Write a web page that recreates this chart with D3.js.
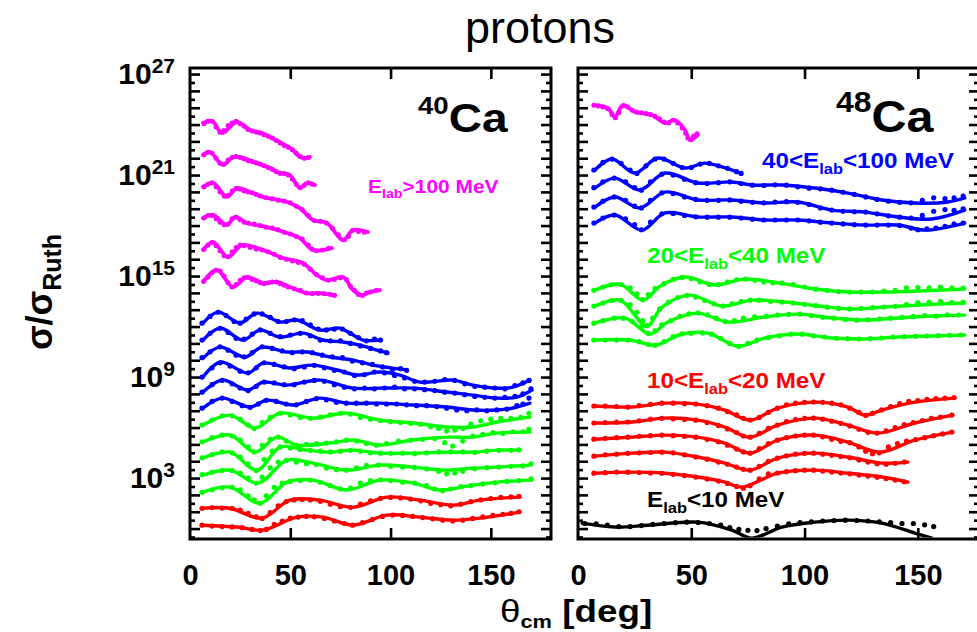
<!DOCTYPE html>
<html>
<head>
<meta charset="utf-8">
<script src="https://cdn.jsdelivr.net/npm/d3@7"></script>
<style>
  body { margin: 0; background: #fff; }
  svg { display: block; }
</style>
</head>
<body>
<svg id="chart" width="977" height="632"></svg>
<script>
// Elastic proton scattering, sigma/sigma_Ruth versus theta_cm.
// Every point is [theta_cm in degrees, log10(sigma/sigma_Ruth)] with the display offset of each curve already applied.

// ---------- 40Ca : E_lab > 100 MeV ----------
const ca40FitAbove100 = [
  [[6.5,24.09],[11,24.21],[16,23.5],[23.4,24.15],[29.9,23.68],[35.9,23.5],[40.9,23.2],[47.4,22.78],[51.3,22.49],[54.8,22.07],[57.8,22.01],[59.8,22.07]],
  [[6.5,22.19],[10,22.37],[16.5,21.6],[21.4,22.07],[24.9,22.07],[33.4,21.71],[39.9,21.42],[44.9,21.12],[49.8,21.0],[54.8,20.23],[58.3,20.53],[62.3,20.41]],
  [[6.5,20.29],[11.5,20.53],[18.4,19.7],[23.4,20.23],[29.9,19.99],[36.4,19.7],[48.4,19.4],[54.8,19.04],[61.3,18.33],[68.3,18.15],[76.3,17.14],[81.3,17.73],[88.7,17.61]],
  [[6.5,18.45],[11.5,18.63],[18.4,18.03],[22.4,18.51],[28.4,18.15],[38.4,17.91],[48.4,17.56],[54.8,17.26],[61.3,16.55],[70.8,16.66]],
  [[6.5,16.55],[11.5,17.02],[18.9,16.13],[25.9,16.84],[36.4,16.55],[46.4,16.07],[56.3,15.77],[63.3,15.06],[68.3,14.76],[76.3,14.94],[81.3,14.17],[85.7,13.87],[89.7,14.05],[94.7,14.17]],
  [[6.5,14.65],[13.5,15.36],[21.4,14.35],[28.4,14.94],[36.4,14.59],[43.4,14.65],[49.8,14.35],[58.3,13.99],[64.8,13.99],[72.3,13.87]]
];
const ca40DataAbove100 = [
  [[7,24.05],[9,24.2],[11,24.2],[13,23.85],[15,23.55],[17,23.65],[19,23.95],[21,24.1],[23,24.2],[25,24.05],[27,23.9],[29,23.7],[31,23.62],[33,23.55],[35,23.5],[37,23.4],[39,23.3],[41,23.2],[43,23.05],[45,22.9],[47,22.75],[49,22.65],[51,22.5],[53,22.3],[55,22.1],[57,22.0],[59,22.05]],
  [[7,22.2],[9,22.35],[11,22.3],[13,22.0],[15,21.7],[17,21.65],[19,21.9],[21,22.05],[23,22.1],[25,22.05],[27,21.95],[29,21.85],[31,21.8],[33,21.72],[35,21.65],[37,21.55],[39,21.45],[41,21.35],[43,21.2],[45,21.1],[47,21.1],[49,21.0],[51,20.75],[53,20.45],[55,20.25],[57,20.4],[59,20.55],[61,20.45]],
  [[7,20.3],[9,20.45],[11,20.55],[13,20.3],[15,20.0],[17,19.75],[19,19.8],[21,20.05],[23,20.2],[25,20.15],[27,20.05],[29,20.0],[31,19.95],[33,19.85],[35,19.75],[38,19.65],[41,19.6],[44,19.5],[47,19.45],[50,19.35],[53,19.15],[56,18.95],[59,18.6],[62,18.3],[65,18.25],[68,18.15],[71,17.85],[74,17.45],[77,17.15],[79,17.35],[81,17.7],[84,17.65],[87,17.6]],
  [[7,18.45],[9,18.6],[11,18.6],[13,18.4],[15,18.2],[17,18.05],[19,18.1],[21,18.4],[23,18.5],[25,18.35],[27,18.2],[29,18.15],[32,18.1],[35,18.0],[38,17.9],[41,17.85],[44,17.75],[47,17.6],[50,17.5],[53,17.35],[56,17.2],[59,16.85],[61,16.6],[63,16.5],[66,16.55],[69,16.65]],
  [[7,16.6],[9,16.85],[11,17.0],[13,16.8],[15,16.5],[17,16.2],[19,16.15],[21,16.45],[23,16.7],[25,16.85],[27,16.8],[30,16.7],[33,16.6],[36,16.55],[39,16.45],[42,16.3],[45,16.1],[48,16.0],[51,15.9],[54,15.8],[57,15.7],[60,15.4],[63,15.1],[66,14.9],[69,14.75],[72,14.8],[75,14.9],[78,14.8],[80,14.4],[82,14.15],[84,13.9],[86,13.85],[88,14.0],[90,14.05],[93,14.15]],
  [[7,14.7],[9,14.95],[11,15.2],[13,15.35],[15,15.3],[17,15.0],[19,14.6],[21,14.35],[23,14.5],[25,14.75],[27,14.9],[29,14.92],[31,14.8],[33,14.7],[35,14.6],[37,14.55],[39,14.6],[41,14.65],[43,14.65],[45,14.55],[47,14.45],[49,14.35],[52,14.25],[55,14.15],[58,14.0],[61,13.95],[64,13.97],[67,13.95],[70,13.9],[72,13.85]]
];

// ---------- 40Ca : 40 < E_lab < 100 MeV ----------
const ca40Fit40to100 = [
  [[6.5,12.21],[14,12.86],[24.9,12.21],[33.4,12.8],[44.9,12.27],[53.3,12.39],[64.8,11.79],[74.8,11.91],[79.8,11.61],[86.2,11.2],[94.7,11.2]],
  [[6.5,11.2],[15,11.91],[26.4,11.2],[34.9,11.79],[44.9,11.38],[56.3,11.61],[66.3,11.2],[76.3,11.08],[84.7,10.9],[93.2,10.6],[98.7,10.43]],
  [[6.5,10.13],[15,10.78],[27.4,10.19],[35.9,10.78],[48.4,10.49],[58.3,10.49],[69.8,10.19],[81.3,10.01],[91.2,9.71],[101.2,9.53],[108.2,9.42]],
  [[6.5,9.0],[15,9.89],[28.9,9.24],[36.4,9.83],[49.8,9.54],[61.3,9.71],[73.3,9.42],[83.2,9.12],[94.7,9.3],[104.7,9.12],[114.7,8.7],[131.1,8.82],[141.1,8.52],[153,8.34],[161,8.4],[169.5,8.82]],
  [[6.5,8.11],[16,8.82],[28.9,8.23],[36.4,8.7],[48.4,8.52],[64.8,8.82],[81.3,8.34],[94.7,8.34],[111.2,8.34],[128.1,8.11],[141.1,7.93],[153,7.75],[163,7.81],[170.5,8.23]],
  [[6.5,7.16],[16,7.75],[29.9,7.22],[38.4,7.63],[51.3,7.34],[64.8,7.75],[78.3,7.45],[94.7,7.45],[111.2,7.34],[128.1,7.22],[141.1,7.04],[153,7.04],[161,7.16],[169.5,7.45]]
];
const ca40Data40to100 = [
  [[6,12.2],[10,12.6],[14,12.85],[18,12.65],[22,12.3],[25,12.2],[28,12.45],[32,12.75],[36,12.75],[40,12.55],[44,12.3],[48,12.3],[52,12.4],[56,12.35],[60,12.1],[64,11.85],[68,11.8],[72,11.85],[76,11.85],[80,11.6],[84,11.35],[88,11.15],[92,11.25],[95,11.2]],
  [[6,11.2],[10,11.6],[15,11.9],[19,11.65],[23,11.3],[27,11.25],[31,11.55],[35,11.8],[40,11.6],[45,11.4],[50,11.5],[55,11.6],[60,11.45],[65,11.2],[70,11.15],[75,11.15],[80,11.0],[85,10.85],[90,10.7],[95,10.55],[98,10.45]],
  [[6,10.15],[10,10.5],[15,10.8],[19,10.6],[23,10.3],[27,10.2],[31,10.45],[36,10.8],[41,10.7],[46,10.55],[51,10.45],[56,10.5],[61,10.45],[66,10.3],[71,10.2],[76,10.15],[81,9.95],[86,9.85],[91,9.75],[96,9.6],[101,9.45],[105,9.5],[108,9.4]],
  [[6,9.0],[11,9.55],[15,9.85],[20,9.65],[25,9.35],[29,9.25],[33,9.55],[37,9.85],[42,9.75],[47,9.6],[52,9.5],[57,9.6],[62,9.7],[67,9.55],[72,9.4],[77,9.3],[82,9.1],[87,9.15],[92,9.3],[97,9.25],[102,9.1],[107,8.95],[112,8.75],[117,8.7],[122,8.75],[127,8.85],[132,8.8],[137,8.6],[142,8.45],[147,8.4],[152,8.35],[157,8.3],[162,8.5],[166,8.65],[169,8.8]],
  [[6,8.1],[11,8.55],[16,8.8],[21,8.6],[25,8.35],[29,8.2],[33,8.45],[37,8.7],[42,8.65],[47,8.55],[52,8.55],[57,8.7],[62,8.8],[67,8.75],[72,8.55],[77,8.4],[82,8.3],[87,8.35],[92,8.3],[97,8.35],[102,8.4],[107,8.3],[112,8.3],[117,8.25],[122,8.2],[127,8.1],[132,8.05],[137,7.95],[142,7.85],[147,7.8],[152,7.75],[157,7.8],[162,7.85],[166,8.0],[170,8.3]],
  [[6,7.15],[11,7.55],[16,7.75],[21,7.55],[26,7.3],[30,7.2],[34,7.4],[38,7.62],[43,7.55],[48,7.4],[53,7.35],[58,7.55],[63,7.72],[68,7.65],[73,7.5],[78,7.45],[83,7.45],[88,7.45],[93,7.4],[98,7.4],[103,7.4],[108,7.35],[113,7.3],[118,7.3],[123,7.25],[128,7.15],[133,7.05],[138,7.0],[143,7.05],[148,7.0],[153,7.05],[158,7.1],[163,7.3],[166,7.4],[169,7.75]]
];

// ---------- 40Ca : 20 < E_lab < 40 MeV ----------
const ca40Fit20to40 = [
  [[6.5,6.15],[19.9,6.74],[32.4,5.97],[44.9,6.86],[61.3,6.56],[78.3,6.86],[94.7,6.44],[111.2,6.27],[128.1,6.03],[141.1,6.03],[153,6.33],[169.5,6.62]],
  [[6.5,5.14],[19.9,5.56],[32.4,4.54],[43.4,5.43],[53.3,4.96],[69.8,5.08],[81.3,5.26],[94.7,4.96],[111.2,5.26],[128.1,5.43],[141.1,5.43],[153,5.67],[169.5,5.73]],
  [[6.5,4.19],[19.9,4.54],[33.4,3.47],[44.9,4.84],[58.3,4.66],[69.8,4.54],[81.3,4.66],[94.7,4.48],[111.2,4.48],[128.1,4.54],[141.1,4.54],[153,4.66],[164.5,4.66]],
  [[6.5,3.18],[19.9,3.47],[33.9,2.7],[48.4,4.07],[61.3,3.89],[78.3,3.47],[94.7,3.77],[111.2,3.65],[128.1,3.47],[141.1,3.59],[153,3.65],[169.5,3.77]],
  [[6.5,2.17],[19.9,2.46],[34.9,1.51],[48.4,2.76],[61.3,2.88],[78.3,2.29],[94.7,2.88],[111.2,2.7],[124.6,2.29],[141.1,2.58],[153,2.76],[170.5,2.88]]
];
const ca40Data20to40 = [
  [[6,6.15],[11,6.45],[16,6.7],[21,6.7],[25,6.5],[29,6.15],[32,5.95],[36,6.3],[40,6.6],[45,6.85],[50,6.75],[55,6.6],[60,6.55],[65,6.62],[70,6.75],[75,6.85],[80,6.8],[85,6.6],[90,6.5],[95,6.42],[100,6.35],[105,6.3],[110,6.25],[115,6.2],[120,6.05],[124,5.95],[128,5.8],[132,5.85],[136,5.95],[140,6.2],[145,6.4],[150,6.5],[155,6.55],[160,6.55],[165,6.6],[169,6.85]],
  [[6,5.15],[11,5.4],[16,5.55],[21,5.5],[25,5.25],[29,4.85],[32,4.55],[36,4.95],[40,5.3],[44,5.43],[48,5.2],[53,4.95],[58,5.0],[63,5.05],[68,5.08],[73,5.15],[78,5.25],[83,5.2],[88,5.05],[93,4.95],[98,5.05],[104,5.2],[110,5.25],[116,5.3],[122,5.35],[127,5.1],[131,4.9],[136,5.2],[141,5.5],[146,5.6],[151,5.7],[156,5.65],[161,5.75],[166,5.75],[169,5.9]],
  [[6,4.2],[11,4.4],[16,4.55],[21,4.5],[25,4.25],[29,3.85],[33,3.45],[37,4.1],[41,4.6],[45,4.85],[50,4.78],[55,4.7],[60,4.65],[65,4.6],[70,4.55],[75,4.6],[80,4.65],[85,4.6],[90,4.5],[95,4.48],[100,4.47],[106,4.48],[112,4.45],[118,4.5],[124,4.55],[130,4.55],[136,4.55],[142,4.52],[148,4.6],[154,4.65],[160,4.65],[164,4.68]],
  [[6,3.2],[11,3.35],[16,3.45],[21,3.45],[25,3.3],[29,3.0],[33,2.7],[36,3.05],[40,3.6],[44,3.95],[48,4.05],[53,3.95],[58,3.85],[63,3.8],[68,3.6],[73,3.5],[78,3.47],[83,3.6],[88,3.75],[94,3.77],[100,3.7],[106,3.65],[112,3.62],[118,3.55],[124,3.4],[128,3.25],[132,3.3],[136,3.4],[142,3.55],[148,3.62],[154,3.65],[160,3.7],[166,3.72],[170,3.85]],
  [[6,2.15],[11,2.3],[16,2.42],[21,2.45],[25,2.3],[29,1.95],[32,1.7],[35,1.5],[38,1.95],[42,2.45],[46,2.7],[50,2.8],[55,2.85],[60,2.88],[65,2.75],[70,2.55],[75,2.35],[80,2.4],[85,2.7],[90,2.85],[95,2.9],[100,2.85],[106,2.75],[112,2.7],[118,2.55],[122,2.35],[126,2.25],[130,2.35],[135,2.5],[140,2.55],[146,2.65],[152,2.72],[158,2.8],[164,2.85],[170,2.95]]
];

// ---------- 40Ca : 10 < E_lab < 20 MeV ----------
const ca40Fit10to20 = [
  [[6.5,1.21],[19.9,1.21],[35.9,0.62],[49.8,1.69],[64.8,1.69],[81.3,1.27],[98.2,1.87],[114.7,1.69],[131.1,1.39],[144.6,1.69],[164.5,1.87]],
  [[6.5,0.2],[23.4,0.09],[36.4,-0.09],[53.3,0.68],[66.3,0.68],[81.3,0.2],[98.2,0.8],[114.7,0.68],[131.1,0.5],[144.6,0.62],[164.5,0.98]]
];
const ca40Data10to20 = [
  [[6,1.2],[11,1.25],[16,1.22],[21,1.2],[25,1.1],[29,0.9],[33,0.7],[36,0.6],[40,0.95],[44,1.35],[48,1.6],[52,1.7],[56,1.72],[60,1.7],[65,1.62],[70,1.45],[75,1.3],[80,1.25],[85,1.45],[90,1.65],[95,1.8],[100,1.85],[105,1.82],[110,1.75],[115,1.65],[120,1.5],[125,1.42],[130,1.35],[135,1.45],[140,1.6],[145,1.7],[150,1.78],[155,1.85],[160,1.88],[164,1.92]],
  [[6,0.2],[11,0.15],[16,0.12],[21,0.1],[26,0.05],[31,-0.05],[35,-0.12],[38,-0.05],[42,0.25],[46,0.45],[50,0.62],[54,0.68],[58,0.72],[62,0.7],[67,0.6],[72,0.45],[77,0.3],[81,0.2],[86,0.35],[91,0.55],[96,0.72],[101,0.8],[106,0.78],[111,0.72],[116,0.65],[121,0.58],[126,0.5],[131,0.45],[136,0.5],[141,0.6],[146,0.7],[151,0.78],[156,0.85],[160,0.9],[164,1.0]]
];

// ---------- 48Ca : E_lab > 100 MeV ----------
const ca48FitAbove100 = [
  [[7.5,25.16],[13.2,24.98],[16.3,24.45],[19.8,25.16],[25.1,24.75],[32.6,24.57],[38.4,24.09],[42.8,24.27],[47.2,23.68],[49.4,23.08],[52.9,23.38]]
];
const ca48DataAbove100 = [
  [[7,25.15],[9,25.1],[11,25.05],[13,24.95],[15,24.6],[16.5,24.4],[18,24.7],[20,25.1],[22,25.05],[24,24.85],[26,24.75],[28,24.7],[30,24.65],[32,24.6],[34,24.5],[36,24.35],[38,24.15],[40,24.1],[42,24.25],[44,24.1],[46,23.8],[47.5,23.5],[48.5,23.2],[50,23.1],[51,23.3],[52.5,23.45]]
];

// ---------- 48Ca : 40 < E_lab < 100 MeV ----------
const ca48Fit40to100 = [
  [[7.5,21.3],[15,21.95],[25.1,21.12],[35.3,22.01],[47.2,21.42],[56,21.71],[63.5,21.48],[71.5,21.12]],
  [[7.5,20.23],[16.3,20.82],[27.3,20.11],[38.4,21.12],[52.9,20.53],[67.9,20.59],[76.8,20.41],[90,20.41],[104.5,20.23],[119.1,19.93],[134.1,19.52],[148.7,19.34],[163.2,19.4],[170.7,19.64]],
  [[7.5,19.1],[16.3,19.7],[27.3,19.04],[38.4,19.99],[52.9,19.52],[67.9,19.52],[82.5,19.34],[97,19.4],[112,18.92],[126.6,18.8],[141.2,18.51],[156.2,18.39],[170.7,18.92]],
  [[7.5,18.15],[16.3,18.63],[28.2,17.73],[38.4,18.75],[52.9,18.51],[67.9,18.51],[82.5,18.33],[97,18.33],[112,18.15],[126.6,18.03],[141.2,18.03],[153.1,17.73],[170.7,18.15]]
];
const ca48Data40to100 = [
  [[7,21.3],[11,21.75],[15,21.95],[19,21.7],[23,21.3],[26,21.1],[30,21.55],[34,21.95],[38,21.95],[42,21.7],[46,21.45],[50,21.45],[54,21.65],[58,21.7],[62,21.55],[66,21.4],[70,21.2],[72,21.1]],
  [[7,20.25],[11,20.6],[16,20.82],[21,20.6],[25,20.25],[28,20.1],[32,20.6],[37,21.05],[42,21.0],[47,20.75],[52,20.55],[57,20.5],[62,20.55],[67,20.6],[72,20.5],[77,20.4],[82,20.38],[87,20.42],[92,20.4],[97,20.3],[102,20.22],[107,20.18],[112,20.1],[117,19.98],[122,19.85],[127,19.7],[132,19.55],[137,19.45],[142,19.38],[147,19.35],[152,19.5],[157,19.65],[162,19.6],[166,19.65],[170,19.75]],
  [[7,19.1],[11,19.45],[16,19.7],[21,19.5],[25,19.15],[28,19.05],[32,19.5],[37,19.95],[42,19.9],[47,19.7],[52,19.55],[57,19.5],[62,19.5],[67,19.52],[72,19.45],[77,19.38],[82,19.35],[87,19.4],[92,19.42],[97,19.38],[102,19.25],[107,19.05],[112,18.92],[117,18.85],[122,18.82],[127,18.8],[132,18.7],[137,18.58],[142,18.5],[147,18.45],[152,18.6],[157,18.85],[162,18.95],[166,18.9],[170,19.0]],
  [[7,18.15],[11,18.45],[16,18.62],[21,18.4],[25,18.05],[28,17.75],[32,18.2],[37,18.7],[42,18.72],[47,18.6],[52,18.52],[57,18.5],[62,18.5],[67,18.5],[72,18.45],[77,18.38],[82,18.33],[87,18.33],[92,18.33],[97,18.33],[102,18.28],[107,18.2],[112,18.15],[117,18.1],[122,18.05],[127,18.03],[132,18.03],[137,18.03],[142,18.0],[147,17.85],[150,17.75],[154,17.8],[158,17.85],[162,17.95],[166,18.1],[170,18.15]]
];

// ---------- 48Ca : 20 < E_lab < 40 MeV ----------
const ca48Fit20to40 = [
  [[7.5,14.17],[18.5,14.52],[28.7,13.57],[36.2,14.4],[47.2,14.94],[60.4,14.47],[73.7,14.82],[89.1,14.58],[104.5,14.23],[120,14.05],[135.4,14.05],[150.9,14.11],[170.7,14.23]],
  [[7.5,13.22],[18.5,13.57],[30.4,12.03],[37.1,13.16],[49.4,13.87],[63.5,13.22],[76.8,13.57],[91.3,13.46],[105.9,13.22],[120.9,13.04],[135.4,13.16],[150.9,13.28],[170.7,13.4]],
  [[7.5,12.21],[20.7,12.51],[31.8,11.56],[39.7,12.27],[52.9,12.8],[66.2,12.27],[82.5,12.57],[97,12.74],[112,12.51],[126.6,12.39],[141.2,12.51],[156.2,12.63],[170.7,12.68]],
  [[7.5,11.2],[22.9,11.2],[34,10.9],[45.9,11.56],[57.3,11.61],[70.6,10.84],[82.5,11.32],[97,11.56],[112,11.32],[126.6,11.26],[141.2,11.38],[156.2,11.44],[170.7,11.5]]
];
const ca48Data20to40 = [
  [[7,14.15],[11,14.35],[15,14.5],[19,14.5],[23,14.3],[26,13.95],[28.5,13.6],[31,13.9],[34,14.25],[38,14.55],[42,14.8],[46,14.92],[50,14.85],[54,14.65],[58,14.5],[62,14.5],[66,14.65],[70,14.78],[74,14.82],[78,14.75],[82,14.65],[86,14.6],[90,14.58],[95,14.5],[100,14.35],[105,14.22],[110,14.15],[115,14.08],[120,14.05],[125,14.05],[130,14.05],[135,14.1],[140,14.15],[145,14.3],[150,14.32],[155,14.3],[160,14.35],[165,14.3],[170,14.28]],
  [[7,13.22],[11,13.4],[15,13.55],[19,13.55],[23,13.3],[26,12.85],[28.5,12.35],[30.5,12.05],[33,12.5],[36,13.05],[40,13.45],[44,13.72],[48,13.85],[52,13.75],[56,13.55],[60,13.35],[64,13.22],[68,13.35],[72,13.5],[76,13.57],[80,13.55],[85,13.5],[90,13.46],[95,13.4],[100,13.32],[105,13.24],[110,13.15],[115,13.08],[120,13.05],[125,13.08],[130,13.12],[135,13.16],[140,13.2],[145,13.3],[150,13.42],[155,13.45],[160,13.5],[165,13.42],[170,13.45]],
  [[7,12.2],[11,12.35],[16,12.5],[20,12.5],[24,12.3],[28,11.95],[31,11.6],[34,11.75],[37,12.1],[41,12.35],[45,12.6],[49,12.75],[53,12.8],[57,12.7],[61,12.5],[65,12.3],[69,12.35],[73,12.5],[78,12.58],[83,12.6],[88,12.68],[93,12.72],[98,12.74],[103,12.65],[108,12.55],[113,12.5],[118,12.42],[123,12.38],[128,12.4],[133,12.45],[138,12.5],[143,12.55],[148,12.6],[153,12.65],[158,12.62],[163,12.7],[168,12.68]],
  [[7,11.2],[12,11.2],[17,11.2],[22,11.2],[27,11.1],[31,10.95],[34,10.88],[38,11.1],[42,11.4],[46,11.56],[50,11.6],[55,11.62],[59,11.55],[63,11.3],[67,11.0],[71,10.82],[75,11.0],[79,11.2],[84,11.35],[89,11.45],[94,11.55],[99,11.55],[104,11.45],[109,11.38],[114,11.3],[119,11.28],[124,11.26],[129,11.28],[134,11.32],[139,11.38],[144,11.4],[149,11.42],[154,11.44],[159,11.46],[164,11.48],[169,11.5]]
];

// ---------- 48Ca : 10 < E_lab < 20 MeV ----------
const ca48Fit10to20 = [
  [[7.5,7.28],[23.8,7.22],[38.4,7.45],[52.9,7.39],[64.8,7.04],[75.9,6.44],[88.2,7.16],[104.5,7.51],[119.1,7.22],[126.6,6.74],[134.1,7.04],[148.7,7.51],[166.3,7.75]],
  [[7.5,6.27],[23.8,6.33],[38.4,6.56],[52.9,6.44],[64.8,6.03],[75.9,5.43],[88.2,6.15],[104.5,6.56],[119.1,6.15],[132.3,5.67],[148.7,6.27],[165.4,6.74]],
  [[7.5,5.31],[23.8,5.43],[38.4,5.55],[52.9,5.43],[64.8,5.08],[75.9,4.48],[88.2,5.26],[104.5,5.55],[119.1,5.14],[133.2,4.54],[148.7,5.26],[165.4,5.73]],
  [[7.5,4.3],[23.8,4.48],[38.4,4.54],[52.9,4.25],[64.8,3.89],[75.9,3.47],[88.2,4.19],[104.5,4.48],[119.1,4.25],[134.1,3.89],[145.6,3.95]],
  [[7.5,3.29],[23.8,3.35],[38.4,3.29],[52.9,3.06],[64.8,2.76],[72.3,2.46],[88.2,3.29],[104.5,3.47],[119.1,3.29],[134.1,3.06],[145.6,2.76]]
];
const ca48Data10to20 = [
  [[7,7.28],[12,7.28],[17,7.25],[22,7.22],[27,7.3],[32,7.38],[37,7.45],[42,7.45],[47,7.42],[52,7.4],[57,7.3],[62,7.15],[66,6.95],[70,6.75],[73,6.55],[76,6.45],[80,6.6],[84,6.9],[88,7.15],[92,7.35],[96,7.45],[100,7.5],[104,7.52],[108,7.5],[112,7.45],[116,7.35],[120,7.15],[124,6.9],[127,6.72],[130,6.85],[134,7.05],[138,7.25],[142,7.42],[146,7.55],[150,7.6],[154,7.68],[158,7.72],[162,7.75],[166,7.78]],
  [[7,6.27],[12,6.3],[17,6.32],[22,6.33],[27,6.4],[32,6.5],[37,6.55],[42,6.52],[47,6.48],[52,6.44],[57,6.3],[62,6.12],[66,5.92],[70,5.7],[73,5.5],[76,5.43],[80,5.65],[84,5.95],[88,6.15],[92,6.35],[96,6.48],[100,6.55],[104,6.56],[108,6.5],[112,6.38],[116,6.25],[120,6.1],[124,5.9],[128,5.72],[132,5.67],[136,5.8],[140,6.0],[144,6.18],[148,6.3],[152,6.42],[156,6.55],[160,6.62],[165,6.74]],
  [[7,5.31],[12,5.36],[17,5.4],[22,5.43],[27,5.48],[32,5.52],[37,5.55],[42,5.52],[47,5.48],[52,5.43],[57,5.3],[62,5.15],[66,4.95],[70,4.72],[73,4.55],[76,4.48],[80,4.75],[84,5.05],[88,5.25],[92,5.4],[96,5.5],[100,5.55],[104,5.55],[108,5.45],[112,5.3],[116,5.18],[120,5.1],[124,4.85],[127,4.6],[130,4.45],[133,4.5],[137,4.85],[141,5.05],[145,5.2],[149,5.28],[153,5.4],[157,5.52],[161,5.62],[165,5.73]],
  [[7,4.3],[12,4.38],[17,4.42],[22,4.47],[27,4.5],[32,4.52],[37,4.54],[42,4.5],[47,4.38],[52,4.25],[57,4.12],[62,3.95],[66,3.82],[70,3.65],[73,3.52],[76,3.47],[80,3.7],[84,4.0],[88,4.18],[92,4.32],[96,4.42],[100,4.47],[104,4.48],[108,4.42],[112,4.35],[116,4.28],[120,4.2],[124,4.08],[128,3.95],[132,3.85],[136,3.82],[140,3.88],[144,3.95]],
  [[7,3.29],[12,3.32],[17,3.35],[22,3.35],[27,3.33],[32,3.3],[37,3.28],[42,3.22],[47,3.15],[52,3.06],[57,2.95],[62,2.82],[66,2.68],[70,2.5],[73,2.4],[76,2.55],[80,2.95],[84,3.25],[88,3.3],[92,3.38],[96,3.44],[100,3.47],[104,3.47],[108,3.42],[112,3.36],[116,3.3],[120,3.25],[124,3.18],[128,3.12],[132,3.05],[136,2.98],[140,2.88],[144,2.78]]
];

// ---------- 48Ca : E_lab < 10 MeV ----------
const ca48FitBelow10 = [
  [[1.8,0.32],[16.3,0.09],[30.9,0.2],[52.9,0.38],[67.9,-0.09],[76.8,-0.57],[90,0.09],[104.5,0.38],[119.1,0.5],[134.1,0.32],[148.7,-0.27],[156.2,-0.57]]
];
const ca48DataBelow10 = [
  [[3,0.3],[8,0.28],[13,0.2],[18,0.12],[23,0.12],[28,0.18],[33,0.25],[38,0.3],[43,0.35],[48,0.38],[53,0.36],[58,0.3],[63,0.2],[67,0.05],[71,-0.05],[75,-0.1],[79,-0.12],[83,0.0],[88,0.15],[93,0.28],[98,0.35],[103,0.4],[108,0.45],[113,0.48],[118,0.5],[123,0.48],[128,0.45],[133,0.4],[138,0.35],[143,0.3],[148,0.3],[153,0.22],[157,0.12]]
];

// Axis decorations
const xTickValues = [0, 50, 100, 150];
const yLabelExponents = [3, 9, 15, 21, 27];

// ---------- drawing ----------
const FONT = "'Liberation Sans', Arial, Helvetica, sans-serif";
const COLORS = { above100: "#ff00ff", mid: "#0000ff", low: "#00ff00", vlow: "#ff0000", below10: "#000000" };

const svg = d3.select("#chart").attr("font-family", FONT);
const yTop = 68, yBot = 539;

const y = d3.scaleLog().domain([10 ** -0.62, 10 ** 27.36]).range([yBot, yTop]);
const xLeft = d3.scaleLinear().domain([0, 180]).range([190, 551]);
const xRight = d3.scaleLinear().domain([0, 177]).range([578, 979]);

const panels = [
  { id: "ca40", x: xLeft, sets: [
      [ca40FitAbove100, ca40DataAbove100, COLORS.above100],
      [ca40Fit40to100, ca40Data40to100, COLORS.mid],
      [ca40Fit20to40, ca40Data20to40, COLORS.low],
      [ca40Fit10to20, ca40Data10to20, COLORS.vlow]
  ]},
  { id: "ca48", x: xRight, sets: [
      [ca48FitAbove100, ca48DataAbove100, COLORS.above100],
      [ca48Fit40to100, ca48Data40to100, COLORS.mid],
      [ca48Fit20to40, ca48Data20to40, COLORS.low],
      [ca48Fit10to20, ca48Data10to20, COLORS.vlow],
      [ca48FitBelow10, ca48DataBelow10, COLORS.below10]
  ]}
];

const defs = svg.append("defs");

panels.forEach(p => {
  const [x0, x1] = p.x.range();
  defs.append("clipPath").attr("id", "clip-" + p.id)
    .append("rect").attr("x", x0 + 1.5).attr("y", yTop + 1.5)
    .attr("width", x1 - x0 - 3).attr("height", yBot - yTop - 3);

  const g = svg.append("g").attr("clip-path", `url(#clip-${p.id})`);
  const line = d3.line()
    .x(d => p.x(d[0]))
    .y(d => y(10 ** d[1]))
    .curve(d3.curveCatmullRom.alpha(0.5));

  p.sets.forEach(([fits, data, color]) => {
    const dense = color === COLORS.above100;
    g.append("g").selectAll("path").data(fits).join("path")
      .attr("d", line)
      .attr("fill", "none")
      .attr("stroke", color)
      .attr("stroke-width", dense ? 3.8 : 3.4)
      .attr("stroke-linejoin", "round")
      .attr("stroke-linecap", "round");
    g.append("g").selectAll("g").data(data).join("g")
      .selectAll("circle").data(d => d).join("circle")
      .attr("cx", d => p.x(d[0]))
      .attr("cy", d => y(10 ** d[1]))
      .attr("r", dense ? 2.5 : 2.6)
      .attr("fill", color);
  });

  // y ticks on both vertical borders, pointing inward
  const decades = d3.range(0, 28).map(k => 10 ** k);
  const halves = d3.range(-1, 27).map(k => 10 ** (k + 0.5)).filter(v => v > y.domain()[0]);
  const tickStyle = sel => {
    sel.select(".domain").remove();
    sel.selectAll(".tick line").attr("stroke", "#000").attr("stroke-width", 2.6);
    sel.selectAll(".tick text").remove();
  };
  svg.append("g").attr("transform", `translate(${x0},0)`)
    .call(d3.axisRight(y).tickValues(decades).tickSize(10).tickFormat(""))
    .call(tickStyle);
  svg.append("g").attr("transform", `translate(${x0},0)`)
    .call(d3.axisRight(y).tickValues(halves).tickSize(5).tickFormat(""))
    .call(tickStyle);
  svg.append("g").attr("transform", `translate(${x1},0)`)
    .call(d3.axisLeft(y).tickValues(decades).tickSize(10).tickFormat(""))
    .call(tickStyle);
  svg.append("g").attr("transform", `translate(${x1},0)`)
    .call(d3.axisLeft(y).tickValues(halves).tickSize(5).tickFormat(""))
    .call(tickStyle);

  // x ticks on top and bottom borders, pointing inward
  const inner = xTickValues.filter(v => v > 0);
  svg.append("g").attr("transform", `translate(0,${yBot})`)
    .call(d3.axisTop(p.x).tickValues(inner).tickSize(11).tickFormat(""))
    .call(tickStyle);
  svg.append("g").attr("transform", `translate(0,${yTop})`)
    .call(d3.axisBottom(p.x).tickValues(inner).tickSize(11).tickFormat(""))
    .call(tickStyle);

  // x tick labels
  const lab = svg.append("g").attr("transform", `translate(0,${yBot})`)
    .call(d3.axisBottom(p.x).tickValues(xTickValues).tickSize(0).tickPadding(25).tickFormat(d3.format("d")));
  lab.select(".domain").remove();
  lab.selectAll(".tick text")
    .attr("font-family", FONT).attr("font-size", 29).attr("font-weight", "bold").attr("fill", "#000");

  // frame
  svg.append("rect").attr("x", x0).attr("y", yTop)
    .attr("width", x1 - x0).attr("height", yBot - yTop)
    .attr("fill", "none").attr("stroke", "#000").attr("stroke-width", 3);
});

// y tick labels 10^n on the left panel
yLabelExponents.forEach(k => {
  const t = svg.append("text")
    .attr("x", 175).attr("y", y(10 ** k) + 10)
    .attr("text-anchor", "end")
    .attr("font-weight", "bold").attr("font-size", 30);
  t.append("tspan").text("10");
  t.append("tspan").attr("font-size", 21).attr("dy", -11).text(String(k));
});

// rich text helper: parts carry their own size and baseline shift; sx widens the glyphs
function richText(x, y0, parts, color, sx, weight) {
  const t = svg.append("text")
    .attr("transform", `translate(${x},${y0}) scale(${sx || 1},1)`)
    .attr("fill", color).attr("font-weight", weight || "bold");
  let shift = 0;
  parts.forEach(p => {
    const s = t.append("tspan").text(p.t).attr("font-size", p.size);
    const target = p.shift || 0;
    if (target !== shift) s.attr("dy", target - shift);
    shift = target;
    if (p.weight) s.attr("font-weight", p.weight);
  });
  return t;
}

// title
svg.append("text").attr("x", 540).attr("y", 43).attr("text-anchor", "middle")
  .attr("font-size", 45).attr("fill", "#000").text("protons");

// nucleus labels
richText(418, 132, [{ t: "40", size: 24, shift: -18 }, { t: "Ca", size: 40, shift: 0 }], "#000", 1.15);
richText(836, 132, [{ t: "48", size: 29, shift: -20 }, { t: "Ca", size: 44, shift: 0 }], "#000", 1.1);

// energy-range labels
richText(368, 193, [{ t: "E", size: 19 }, { t: "lab", size: 13, shift: 5 }, { t: ">100 MeV", size: 19, shift: 0 }], COLORS.above100, 1.1);
richText(762, 168, [{ t: "40<E", size: 22 }, { t: "lab", size: 15, shift: 6 }, { t: "<100 MeV", size: 22, shift: 0 }], COLORS.mid, 1.1);
richText(647, 263, [{ t: "20<E", size: 22 }, { t: "lab", size: 15, shift: 6 }, { t: "<40 MeV", size: 22, shift: 0 }], COLORS.low, 1.1);
richText(647, 388, [{ t: "10<E", size: 22 }, { t: "lab", size: 15, shift: 6 }, { t: "<20 MeV", size: 22, shift: 0 }], COLORS.vlow, 1.1);
richText(647, 507, [{ t: "E", size: 22 }, { t: "lab", size: 15, shift: 6 }, { t: "<10 MeV", size: 22, shift: 0 }], COLORS.below10, 1.1);

// axis titles
richText(500, 622, [
  { t: "\u03b8", size: 32, weight: "normal" },
  { t: "cm", size: 19, shift: 6 },
  { t: " [deg]", size: 32, shift: 0 }
], "#000", 1.15);

const yTitle = svg.append("text")
  .attr("transform", "translate(52,292) rotate(-90)")
  .attr("text-anchor", "middle").attr("font-weight", "bold").attr("fill", "#000");
yTitle.append("tspan").attr("font-size", 36).text("\u03c3/\u03c3");
yTitle.append("tspan").attr("font-size", 25).attr("dy", 9).text("Ruth");
</script>
</body>
</html>
